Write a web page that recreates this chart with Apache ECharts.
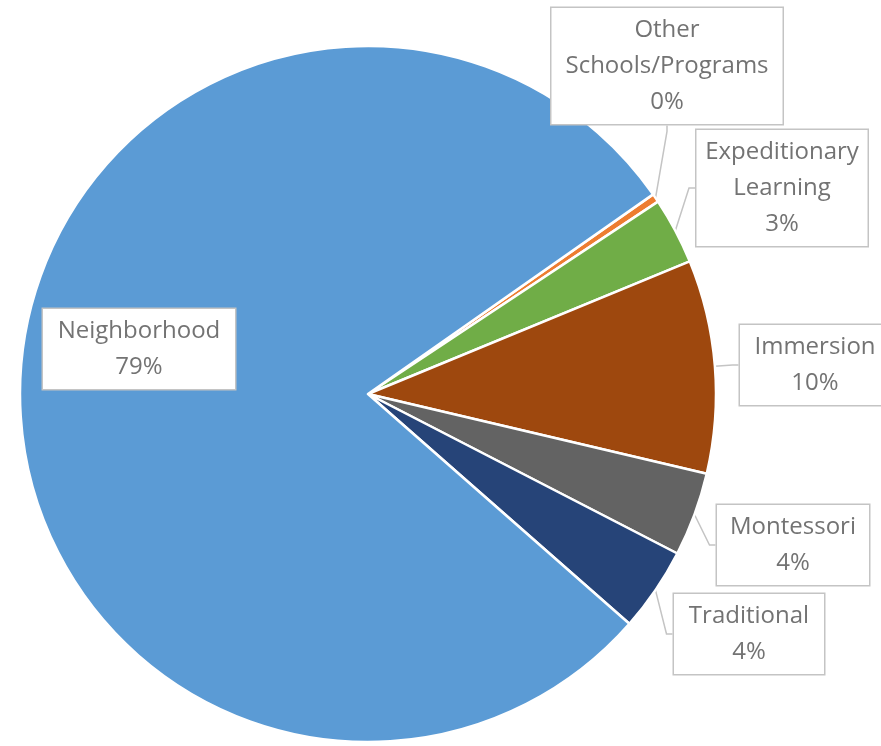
<!DOCTYPE html>
<html>
<head>
<meta charset="utf-8">
<title>School Program Enrollment</title>
<script src="https://cdn.jsdelivr.net/npm/echarts@6/dist/echarts.min.js"></script>
<style>
  html, body { margin: 0; padding: 0; background: #ffffff; }
  #chart { width: 881px; height: 746px; }
</style>
</head>
<body>
<div id="chart"></div>
<script>
// Program types, in clockwise order starting just right of twelve-thirty
const categories = [
  'Other\nSchools/Programs',
  'Expeditionary\nLearning',
  'Immersion',
  'Montessori',
  'Traditional',
  'Neighborhood'
];
// Share of students (percent)
const shares = [0.4, 3.1, 9.9, 3.9, 3.9, 78.8];
const sliceColors = ['#ED7D31', '#70AD47', '#9E480E', '#636363', '#264478', '#5B9BD5'];

// Callout box placement (centre x, centre y) and content width
const calloutCentres = [[667, 66], [782, 188], [815, 365], [793, 545], [749, 634], [139, 349]];
const calloutWidths = [215, 155, 134, 136, 134, 176];

const chart = echarts.init(document.getElementById('chart'), null, { renderer: 'canvas' });

const data = categories.map((name, i) => ({
  name: name,
  value: shares[i],
  itemStyle: { color: sliceColors[i] },
  label: { width: calloutWidths[i] }
}));

chart.setOption({
  animation: false,
  series: [{
    type: 'pie',
    center: [368, 394],
    radius: 348,
    startAngle: 35,
    clockwise: true,
    percentPrecision: 0,
    avoidLabelOverlap: false,
    itemStyle: { borderColor: '#ffffff', borderWidth: 2.5 },
    label: {
      show: true,
      position: 'outside',
      formatter: '{b}\n{d}%',
      fontFamily: 'Open Sans',
      fontSize: 24,
      lineHeight: 36,
      color: '#737373',
      align: 'center',
      backgroundColor: '#ffffff',
      borderColor: '#c4c4c4',
      borderWidth: 1.5,
      padding: [4, 8]
    },
    labelLine: {
      show: true,
      length: 8,
      length2: 6,
      smooth: false,
      lineStyle: { color: '#c4c4c4', width: 1.5 }
    },
    labelLayout: function (params) {
      const c = calloutCentres[params.dataIndex];
      return { x: c[0], y: c[1], align: 'center', verticalAlign: 'middle' };
    },
    emphasis: { disabled: true },
    data: data
  }]
});
</script>
</body>
</html>
